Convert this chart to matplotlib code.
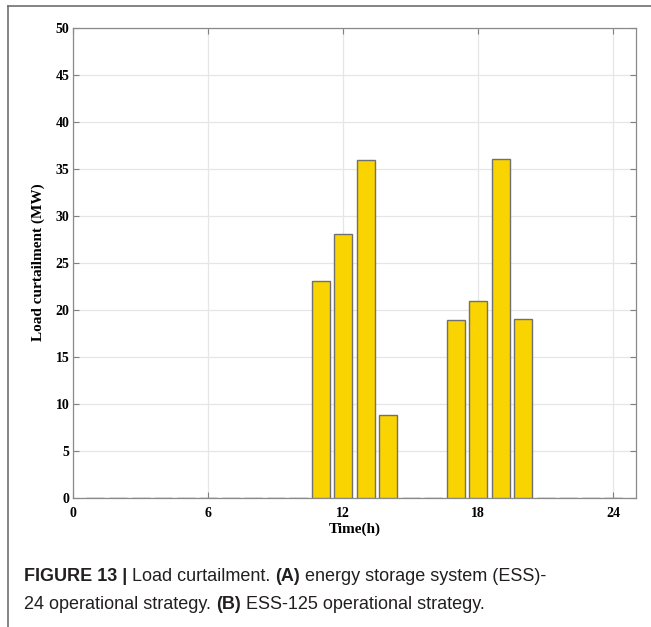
import numpy as np
import matplotlib.pyplot as plt
from matplotlib.lines import Line2D

# -- Data --

hours = np.arange(1, 25)
curtailment = [0, 0, 0, 0, 0, 0, 0, 0, 0, 0,
               23.0, 28.0, 35.9, 8.8,
               0, 0,
               18.9, 20.9, 36.0, 19.0,
               0, 0, 0, 0]
xticks = [0, 6, 12, 18, 24]
yticks = [0, 5, 10, 15, 20, 25, 30, 35, 40, 45, 50]

bar_color = "#fad400"
edge_color = "#707070"
serif = ["Liberation Serif", "DejaVu Serif"]
sans = ["Liberation Sans", "DejaVu Sans"]

# -- Plotting code --

fig = plt.figure(figsize=(6.51, 6.27), dpi=100)
ax = fig.add_axes([0.1121, 0.2065, 0.8644, 0.7496])

ax.bar(hours, curtailment, width=0.8, color=bar_color,
       edgecolor=edge_color, linewidth=1.0, zorder=3)

ax.set_xlim(0, 25)
ax.set_ylim(0, 50)
ax.set_xticks(xticks)
ax.set_yticks(yticks)
ax.grid(True, color="#e6e6e6", linewidth=0.9, zorder=0)
ax.tick_params(direction="in", top=True, right=True, length=4,
               color="#808080")
ax.tick_params(axis="x", pad=6.5)
ax.tick_params(axis="y", pad=2.5)
for lab in ax.get_xticklabels() + ax.get_yticklabels():
    lab.set_family(serif)
    lab.set_fontweight("bold")
    lab.set_fontsize(10)
for sp in ax.spines.values():
    sp.set_color("#8a8a8a")
    sp.set_linewidth(0.9)

ax.set_xlabel("Time(h)", family=serif, fontweight="bold", fontsize=11,
              labelpad=2)
ax.set_ylabel("Load curtailment (MW)", family=serif, fontweight="bold",
              fontsize=11, labelpad=8)

# frame lines along top and left of the figure
fig.add_artist(Line2D([8 / 651, 1], [1 - 6 / 627, 1 - 6 / 627],
                      transform=fig.transFigure, color="#707070", lw=1.2))
fig.add_artist(Line2D([8 / 651, 8 / 651], [0, 1 - 6 / 627],
                      transform=fig.transFigure, color="#707070", lw=1.2))

# caption, mixed bold and regular runs placed one after another
cap_color = "#231f20"
cap_size = 13


def chain(y, runs):
    prev = fig.text(24 / 651, y, runs[0][0], family=sans,
                    fontweight=runs[0][1], fontsize=cap_size,
                    color=cap_color, va="baseline")
    for text, weight in runs[1:]:
        prev = ax.annotate(text, xy=(1, 0), xycoords=prev,
                           va="bottom", ha="left", family=sans,
                           fontweight=weight, fontsize=cap_size,
                           color=cap_color, annotation_clip=False)


chain(1 - 581 / 627, [("FIGURE 13 |", "bold"), (" Load curtailment. ", "normal"),
                      ("(A)", "bold"), (" energy storage system (ESS)-", "normal")])
chain(1 - 609 / 627, [("24 operational strategy. ", "normal"), ("(B)", "bold"),
                      (" ESS-125 operational strategy.", "normal")])

fig.savefig("out.png", dpi=100)
